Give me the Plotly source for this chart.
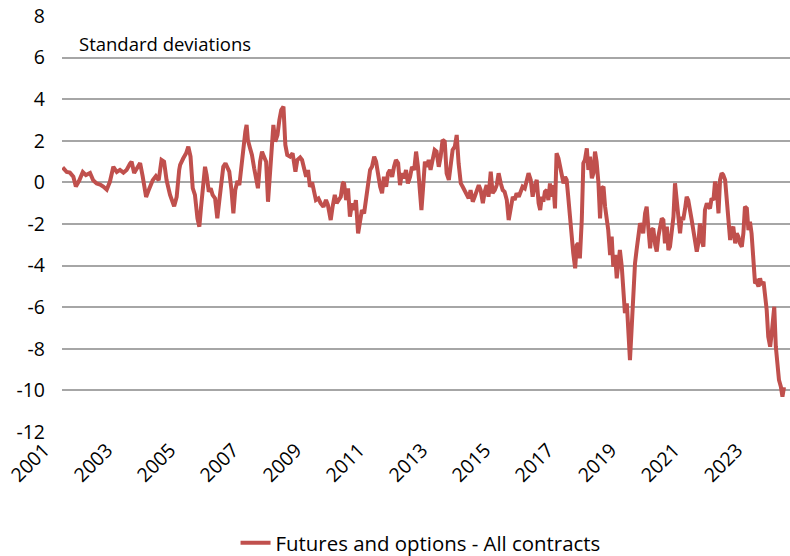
import plotly.graph_objects as go

years = [
    2001.02, 2001.15, 2001.25, 2001.36, 2001.44, 2001.55, 2001.66, 2001.76, 2001.89, 2001.99,
    2002.10, 2002.21, 2002.31, 2002.42, 2002.52, 2002.63, 2002.74, 2002.84, 2002.95, 2003.05,
    2003.16, 2003.21, 2003.29, 2003.39, 2003.48, 2003.56, 2003.67, 2003.77, 2003.88, 2003.98,
    2004.07, 2004.16, 2004.24, 2004.32, 2004.43, 2004.56, 2004.64, 2004.72,
    2004.75, 2004.85, 2004.94, 2005.01, 2005.08, 2005.15, 2005.22, 2005.30, 2005.36, 2005.42,
    2005.49, 2005.54, 2005.59, 2005.66, 2005.72, 2005.78, 2005.86, 2005.93, 2005.99, 2006.06,
    2006.12, 2006.19, 2006.25, 2006.31, 2006.38, 2006.44, 2006.50, 2006.57, 2006.63, 2006.69,
    2006.76, 2006.82, 2006.86, 2006.90, 2006.97, 2007.03, 2007.10, 2007.16, 2007.22, 2007.29,
    2007.35, 2007.41, 2007.48, 2007.54, 2007.58, 2007.65, 2007.71, 2007.77, 2007.84, 2007.90,
    2007.96, 2008.03, 2008.09, 2008.15, 2008.24, 2008.32, 2008.41, 2008.47,
    2008.56, 2008.62, 2008.68, 2008.75, 2008.81, 2008.87, 2008.94, 2009.00, 2009.06, 2009.14,
    2009.21, 2009.30, 2009.38, 2009.44, 2009.53, 2009.59, 2009.66, 2009.72, 2009.78, 2009.85,
    2009.91, 2009.95, 2010.02, 2010.08, 2010.14, 2010.21, 2010.27, 2010.33, 2010.40, 2010.46,
    2010.52, 2010.59, 2010.65, 2010.71, 2010.78, 2010.84, 2010.91, 2010.97, 2011.03, 2011.10,
    2011.16, 2011.22, 2011.29, 2011.35, 2011.41, 2011.48, 2011.54, 2011.60, 2011.67, 2011.73,
    2011.79, 2011.86, 2011.92, 2011.98, 2012.05, 2012.11, 2012.18, 2012.24, 2012.30, 2012.36,
    2012.41, 2012.47, 2012.52,
    2012.58, 2012.64, 2012.70, 2012.77, 2012.83, 2012.89, 2012.96, 2013.02, 2013.08, 2013.15,
    2013.21, 2013.28, 2013.34, 2013.40, 2013.47, 2013.53, 2013.59, 2013.66, 2013.72, 2013.78,
    2013.85, 2013.91, 2013.97, 2014.04, 2014.10, 2014.16, 2014.23, 2014.29, 2014.36, 2014.42,
    2014.48, 2014.54, 2014.61, 2014.67, 2014.74, 2014.80, 2014.86, 2014.93, 2014.99, 2015.05,
    2015.12, 2015.18, 2015.24, 2015.31, 2015.37, 2015.43, 2015.50, 2015.56, 2015.62, 2015.69,
    2015.75, 2015.81, 2015.88, 2015.94, 2016.00, 2016.07, 2016.13,
    2016.18, 2016.23, 2016.28, 2016.33, 2016.39, 2016.44, 2016.49, 2016.55, 2016.60, 2016.65,
    2016.70, 2016.76, 2016.81, 2016.86, 2016.92, 2016.97, 2017.02, 2017.07, 2017.13, 2017.18,
    2017.23, 2017.29, 2017.34, 2017.39, 2017.44, 2017.50, 2017.55, 2017.60, 2017.66, 2017.71,
    2017.76, 2017.82, 2017.87, 2017.92, 2017.97, 2018.03, 2018.08, 2018.13, 2018.19, 2018.24,
    2018.29, 2018.34, 2018.40, 2018.45, 2018.50, 2018.56, 2018.61, 2018.66, 2018.71, 2018.77,
    2018.82, 2018.87, 2018.93, 2018.98, 2019.03, 2019.08, 2019.14, 2019.19, 2019.24, 2019.30,
    2019.35, 2019.40, 2019.45, 2019.51, 2019.56, 2019.61, 2019.67, 2019.72, 2019.77, 2019.83,
    2019.88, 2019.93,
    2019.98, 2020.04, 2020.09, 2020.14, 2020.20, 2020.25, 2020.30, 2020.35, 2020.41, 2020.46,
    2020.51, 2020.57, 2020.62, 2020.67, 2020.72, 2020.78, 2020.83, 2020.88, 2020.94, 2020.99,
    2021.04, 2021.10, 2021.15, 2021.20, 2021.25, 2021.31, 2021.36, 2021.41, 2021.47, 2021.52,
    2021.57, 2021.62, 2021.68, 2021.73, 2021.78, 2021.84, 2021.89, 2021.94, 2021.99, 2022.05,
    2022.10, 2022.15, 2022.21, 2022.26, 2022.31, 2022.37, 2022.42, 2022.47, 2022.52, 2022.58,
    2022.63, 2022.68, 2022.74, 2022.79, 2022.84, 2022.89, 2022.95, 2023.00, 2023.05, 2023.11,
    2023.16, 2023.21, 2023.27, 2023.32, 2023.37, 2023.42, 2023.48, 2023.53, 2023.58, 2023.61,
    2023.66, 2023.71, 2023.76, 2023.82, 2023.87, 2023.92,
]

# Positioning in standard deviations
futures_options_all = [
    0.72, 0.5, 0.47, 0.27, -0.2, 0.1, 0.5, 0.35, 0.45, 0.1,
    -0.05, -0.1, -0.2, -0.35, 0.03, 0.75, 0.5, 0.6, 0.47, 0.6,
    0.9, 1.0, 0.45, 0.75, 0.93, 0.3, -0.7, -0.3, 0.1, 0.3,
    0.1, 1.08, 1.0, 0.1, -0.6, -1.15, -0.7, 0.6,
    0.84, 1.16, 1.4, 1.72, 1.24, -0.28, -0.6, -1.73, -2.13, -1.09,
    0.03, 0.75, 0.36, -0.45, -0.28, -0.6, -0.77, -1.73, -0.93, 0.2,
    0.75, 0.92, 0.75, 0.52, -0.37, -1.49, -0.37, 0.07, -0.13, 0.75,
    1.8, 2.44, 2.76, 2.04, 1.64, 1.32, 0.68, 0.2, -0.28, 1.0,
    1.48, 1.24, 1.0, -0.93, 0.03, 1.48, 2.76, 1.96, 2.28, 3.0,
    3.48, 3.64, 1.8, 1.32, 1.24, 1.4, 0.52, 1.08,
    1.2, 1.08, 0.6, 0.27, 0.6, -0.21, 0.0, -0.37, -0.85, -0.77,
    -1.0, -1.17, -0.85, -1.08, -1.81, -1.17, -0.6, -1.0, -0.85, -0.69,
    -0.05, 0.0, -0.85, -0.29, -1.65, -1.0, -1.33, -0.85, -2.45, -1.97,
    -1.33, -1.49, -0.85, -0.37, 0.6, 0.75, 1.24, 1.0, 0.27, -0.21,
    -0.52, 0.27, -0.21, 0.44, 0.6, 0.27, 0.75, 1.08, 0.92, -0.13,
    0.44, 0.2, 0.6, -0.05, 0.27, 0.75, 0.6, 1.48, 0.75, -0.2,
    -1.33, -0.1, 1.0,
    0.75, 1.08, 0.6, 1.24, 1.56, 1.48, 0.75, 1.24, 2.04, 1.96,
    0.44, 0.12, 0.75, 1.56, 1.72, 2.28, 0.92, -0.05, -0.21, -0.37,
    -0.6, -0.77, -0.37, -0.93, -0.69, -0.45, -0.13, -0.37, -1.0, -0.45,
    -0.13, -0.69, 0.52, -0.52, -0.37, -0.13, 0.44, -0.05, -0.37, -0.45,
    -0.85, -1.81, -1.17, -0.69, -0.85, -0.52, -0.69, -0.45, -0.21, -0.29,
    0.0, 0.44, 0.12, -0.69, -0.21, 0.12, -1.0,
    -1.33, -0.69, -0.93, -0.45, -0.37, -0.85, -0.05, -0.69, -0.13, -1.25,
    1.4, 1.16, 0.75, 0.44, -0.05, 0.27, 0.12, -0.69, -1.65, -2.93,
    -3.41, -4.13, -3.01, -2.93, -3.65, -1.81, 0.92, 1.08, 1.64, 0.6,
    1.24, 0.2, 0.44, 1.48, 1.0, -0.05, -1.73, -0.28, -0.21, -1.17,
    -1.81, -2.29, -3.49, -2.61, -4.05, -3.49, -4.61, -3.73, -3.25, -4.05,
    -5.01, -6.29, -5.81, -7.1, -8.54, -7.1, -5.17, -3.89, -3.25, -2.29,
    -1.97, -2.13, -2.45, -1.49, -1.17, -2.13, -3.17, -2.29, -2.21, -3.01,
    -3.33, -2.61,
    -2.29, -1.73, -1.81, -2.93, -2.13, -3.25, -3.09, -2.45, -1.65, -0.04,
    -0.85, -1.65, -2.45, -1.65, -1.81, -1.25, -0.69, -0.85, -1.57, -1.81,
    -2.29, -2.77, -3.33, -2.93, -1.97, -2.77, -3.09, -1.33, -1.0, -1.17,
    -1.25, -0.77, -0.85, 0.03, -0.21, -1.49, 0.12, 0.44, 0.36, 0.12,
    -0.85, -1.65, -2.77, -2.29, -2.13, -2.93, -2.45, -2.61, -2.93, -3.09,
    -2.45, -1.17, -1.25, -2.29, -1.89, -2.45, -3.57, -4.85, -4.77, -5.01,
    -4.61, -4.93, -4.77, -5.33, -6.13, -7.42, -7.9, -7.25, -5.98, -5.98,
    -7.9, -8.54, -9.5, -9.82, -10.3, -9.85,
]

year_ticks = [2001, 2003, 2005, 2007, 2009, 2011, 2013, 2015, 2017, 2019, 2021, 2023]
year_labels = [str(y) for y in year_ticks]
y_ticks = [8, 6, 4, 2, 0, -2, -4, -6, -8, -10, -12]
y_labels = ["8", "6", "4", "2", "0", "-2", "-4", "-6", "-8", "-10", "-12"]

FONT = "Open Sans"

fig = go.Figure()
fig.add_trace(go.Scatter(
    x=years, y=futures_options_all, mode="lines",
    name="Futures and options - All contracts",
    line=dict(color="#C0504D", width=4),
))

fig.update_layout(
    width=790, height=556, autosize=False,
    margin=dict(l=62, r=0, t=16, b=124, autoexpand=False),
    paper_bgcolor="white", plot_bgcolor="white",
    font=dict(family=FONT, size=18, color="black"),
    showlegend=True,
    legend=dict(orientation="h", x=0.4925, xanchor="center", y=-0.267, yanchor="middle",
                font=dict(family=FONT, size=20.4, color="black"), bgcolor="rgba(0,0,0,0)"),
    annotations=[dict(text="Standard deviations", x=0.0206, y=0.935, xref="paper", yref="paper",
                      xanchor="left", yanchor="middle", showarrow=False,
                      font=dict(family=FONT, size=18.5, color="black"))],
)
fig.update_xaxes(range=[2001, 2024.11], tickvals=year_ticks, ticktext=year_labels, tickangle=-45,
                 showgrid=False, zeroline=False, showline=False, ticks="",
                 ticklabelshift=-18, ticklabelstandoff=2,
                 tickfont=dict(family=FONT, size=19.5, color="black"))
fig.update_yaxes(range=[-12, 8], tickvals=y_ticks, ticktext=y_labels, showgrid=True,
                 gridcolor="#a6a6a6", gridwidth=1.5,
                 zeroline=False, showline=False, ticks="", ticklabelstandoff=16,
                 tickfont=dict(family=FONT, size=19.5, color="black"))

fig.write_html("out.html", config={"displayModeBar": False},
               post_script="document.body.style.margin='0';document.body.style.overflow='hidden';")
